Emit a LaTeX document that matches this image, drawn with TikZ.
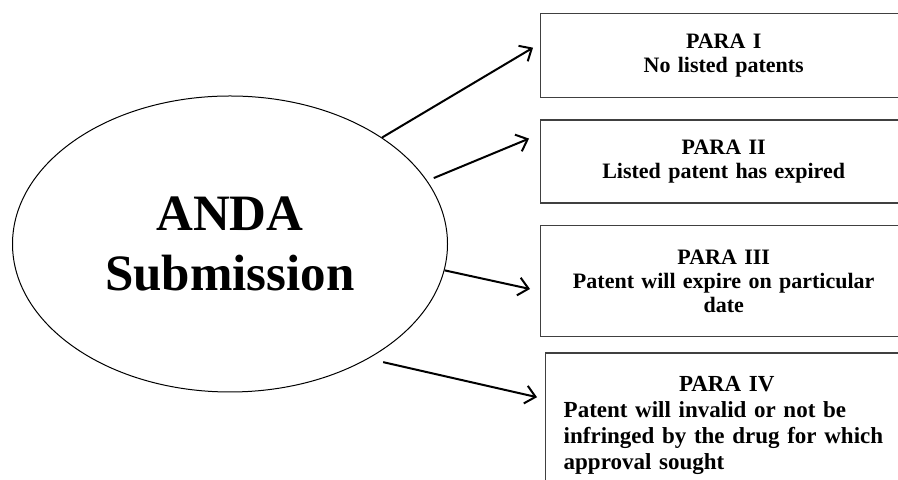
\documentclass[tikz,border=0pt]{standalone}
\usepackage{fontspec}
\setmainfont{Liberation Serif}
\usepackage{tikz}
\usetikzlibrary{shapes,arrows.meta}
\usetikzlibrary{positioning}
\tikzstyle{arrow} = [line width=1pt,-{Straight Barb[length=5pt,width=9pt]}]
\tikzstyle{para} = [
    rectangle, minimum width=183pt, text width=165pt, inner sep=9pt, align=center,
    draw=black!75, line width=0.7pt, font=\fontsize{11}{12}\selectfont\bfseries]

\begin{document}
\begin{tikzpicture}[node distance=10.5pt]
\useasboundingbox (0,0) rectangle (449pt,240pt);
\clip (0,0) rectangle (449pt,240pt);

\node (anda) [ellipse, draw, line width=0.5pt, minimum width=217.5pt, minimum height=148pt,
    inner sep=0pt, align=center, font=\fontsize{25.5}{30}\selectfont\bfseries]
    at (115pt,118pt) {ANDA\\Submission};

\node (para1) [para, minimum height=42pt, anchor=north west] at (270pt,233.5pt) {
    PARA I \\
    No listed patents
};

\node (para2) [para, minimum height=41.5pt, below=of para1] {
    PARA II \\
    Listed patent has expired
};

\node (para3) [para, minimum height=55.5pt, below=of para2] {
    PARA III \\
    Patent will expire on particular \\
    date
};

\node (para4) [para, minimum height=73pt, below=7.5pt of para3.south west, anchor=north west,
    xshift=2.5pt, text width=178pt, align=left, font=\fontsize{11.5}{13}\selectfont\bfseries] {
    \makebox[163pt]{PARA IV} \\
    Patent will invalid or not be \\
    infringed by the drug for which \\
    approval sought
};

\draw [arrow] (anda.35) -- ([shift={(-3.5pt,4pt)}]para1.west);
\draw [arrow] ([shift={(3.5pt,1pt)}]anda.18) -- ([shift={(-5.5pt,11.5pt)}]para2.west);
\draw [arrow] (anda.-7) -- ([shift={(-5pt,-4pt)}]para3.west);
\draw [arrow] ([shift={(3.5pt,-4pt)}]anda.-37) -- ([shift={(-4pt,-22.5pt)}]para4.north west);
\end{tikzpicture}
\end{document}
